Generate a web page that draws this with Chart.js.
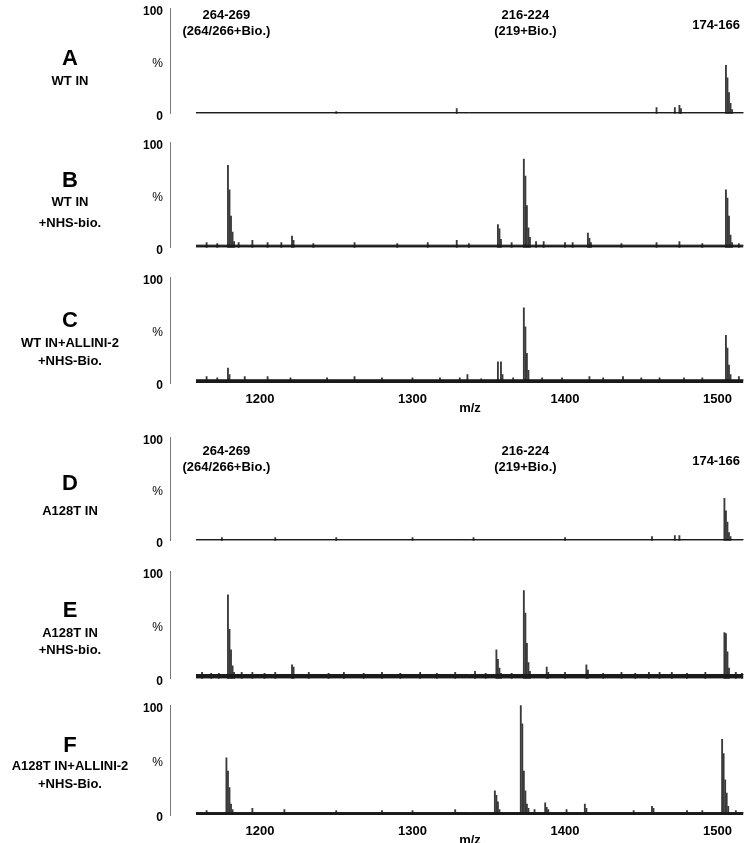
<!DOCTYPE html>
<html>
<head>
<meta charset="utf-8">
<script src="https://cdn.jsdelivr.net/npm/chart.js@4"></script>
<style>
  body { margin: 0; background: #fff; font-family: "Liberation Sans", Arial, sans-serif; }
  #wrap { position: relative; width: 745px; height: 843px; overflow: hidden; }
  canvas { position: absolute; }
  .lab { position: absolute; left: 0; width: 140px; text-align: center; font-weight: bold; color: #000; white-space: nowrap; }
</style>
</head>
<body>
<div id="wrap"></div>
<script>
// axis ticks and scan range (m/z)
const xTicks = [1200, 1300, 1400, 1500];
const scanRange = [1158, 1517];

// panel names
const panelLetters = ['A', 'B', 'C', 'D', 'E', 'F'];
const panelNames = [
  ['WT IN'],
  ['WT IN', '+NHS-bio.'],
  ['WT IN+ALLINI-2', '+NHS-Bio.'],
  ['A128T IN'],
  ['A128T IN', '+NHS-bio.'],
  ['A128T IN+ALLINI-2', '+NHS-Bio.']
];

// peptide labels above the top spectrum of each group
const annoMz = [1178, 1374, 1499];
const annoText = [['264-269', '(264/266+Bio.)'], ['216-224', '(219+Bio.)'], ['174-166']];

// baseline noise level (%) of each spectrum
const noiseLevel = [1.2, 2.5, 3, 1.2, 4, 2.2];

// peaks: m/z and relative intensity (%)
const mzA = [1250, 1329, 1460, 1472, 1475, 1476, 1505.5, 1506.5, 1507.5, 1508.5, 1509.5];
const intA = [2, 5, 6, 6, 8, 5, 46, 34, 20, 10, 4];

const mzB = [1165, 1172, 1179, 1180, 1181, 1182, 1183, 1186, 1195, 1205, 1214, 1221, 1222, 1235, 1262, 1290, 1310, 1329, 1337,
  1356, 1357, 1358, 1365, 1373, 1374, 1375, 1376, 1377, 1381, 1386, 1400, 1405, 1415, 1416, 1417, 1437, 1460, 1475, 1490,
  1505.5, 1506.5, 1507.5, 1508.5, 1509.5, 1514];
const intB = [5, 4, 78, 55, 30, 15, 6, 5, 7, 5, 5, 11, 7, 4, 5, 4, 5, 7, 4,
  22, 18, 8, 5, 84, 68, 40, 19, 10, 6, 6, 5, 5, 14, 9, 5, 4, 5, 6, 4,
  55, 47, 30, 12, 5, 4];

const mzC = [1165, 1172, 1179, 1180, 1190, 1205, 1220, 1244, 1262, 1280, 1300, 1318, 1331, 1336, 1345,
  1356, 1358, 1359, 1366, 1373, 1374, 1375, 1376, 1385, 1398, 1416, 1425, 1438, 1450, 1462, 1478, 1490,
  1505.5, 1506.5, 1507.5, 1508.5, 1514];
const intC = [6, 5, 14, 8, 6, 6, 5, 5, 6, 5, 5, 5, 5, 8, 4,
  20, 20, 8, 5, 71, 53, 28, 12, 5, 5, 6, 5, 6, 5, 5, 5, 5,
  45, 33, 17, 8, 6];

const mzD = [1175, 1210, 1250, 1300, 1340, 1400, 1457, 1472, 1475, 1504.5, 1505.5, 1506.5, 1507.5, 1508.5];
const intD = [3, 3, 3, 3, 3, 3, 4, 5, 5, 41, 29, 18, 8, 4];

const mzE = [1162, 1168, 1173, 1179, 1180, 1181, 1182, 1183, 1188, 1195, 1203, 1210, 1221, 1222, 1232, 1245, 1255, 1268,
  1280, 1292, 1305, 1316, 1328, 1341, 1348, 1355, 1356, 1357, 1358, 1365, 1373, 1374, 1375, 1376, 1377, 1388, 1389,
  1400, 1414, 1415, 1425, 1437, 1446, 1455, 1462, 1470, 1480, 1492, 1504.5, 1505.5, 1506.5, 1507.5, 1512, 1516];
const intE = [6, 5, 5, 78, 46, 27, 12, 6, 6, 6, 5, 6, 13, 11, 6, 5, 6, 5,
  6, 5, 6, 5, 6, 7, 5, 27, 18, 10, 5, 5, 82, 61, 33, 15, 7, 11, 6,
  6, 13, 8, 5, 6, 5, 6, 6, 6, 5, 6, 43, 42, 25, 10, 6, 5];

const mzF = [1165, 1178, 1179, 1180, 1181, 1182, 1195, 1216, 1250, 1280, 1300, 1328, 1354, 1355, 1356, 1357,
  1371, 1372, 1373, 1374, 1375, 1376, 1380, 1387, 1388, 1389, 1401, 1413, 1414, 1445, 1457, 1458, 1480, 1490,
  1503, 1504, 1505, 1506, 1507, 1512];
const intF = [4, 52, 40, 25, 10, 5, 6, 5, 4, 4, 4, 5, 22, 18, 12, 5,
  100, 83, 40, 22, 10, 6, 5, 11, 7, 5, 5, 10, 6, 4, 8, 6, 4, 4,
  69, 56, 32, 20, 8, 4];

const spectraMz = [mzA, mzB, mzC, mzD, mzE, mzF];
const spectraInt = [intA, intB, intC, intD, intE, intF];

// layout: pixel y of 100 % and of 0 % for each panel
const panelTop = [6, 140, 275, 435, 569, 703];
const panelBase = [118, 252, 383, 545, 683, 815];
const showX = [false, false, true, false, false, true];
const showAnno = [true, false, false, true, false, false];
const annoShift = [7, 0, 0, 14, 0, 0];
const labelY = [[58, 80], [180, 201, 222], [320, 342, 360], [483, 510], [610, 632, 649], [745, 765, 783]];

const wrap = document.getElementById('wrap');
const FONT = '"Liberation Sans", Arial, sans-serif';

function addLabel(text, y, size) {
  const d = document.createElement('div');
  d.className = 'lab';
  d.textContent = text;
  d.style.fontSize = size + 'px';
  d.style.lineHeight = size + 'px';
  d.style.top = (y - size / 2) + 'px';
  wrap.appendChild(d);
}

const peakLabelPlugin = {
  id: 'peakLabels',
  afterDraw(chart, args, opts) {
    if (!opts.show) return;
    const ctx = chart.ctx, xs = chart.scales.x, top = chart.chartArea.top + opts.shift;
    ctx.save();
    ctx.fillStyle = '#000';
    ctx.font = 'bold 13px ' + FONT;
    ctx.textAlign = 'center';
    ctx.textBaseline = 'middle';
    annoText.forEach((lines, k) => {
      const x = xs.getPixelForValue(annoMz[k]);
      if (lines.length === 1) ctx.fillText(lines[0], x, top + 10);
      else lines.forEach((t, j) => ctx.fillText(t, x, top + j * 16));
    });
    ctx.restore();
  }
};

function makePanel(i) {
  const padTop = 12;
  const xH = showX[i] ? 34 : 0;
  const padBottom = showX[i] ? 0 : 10;
  const cv = document.createElement('canvas');
  cv.width = 625;
  cv.height = panelBase[i] - panelTop[i] + padTop + xH + padBottom;
  cv.style.left = '120px';
  cv.style.top = (panelTop[i] - padTop) + 'px';
  wrap.appendChild(cv);

  const peaks = spectraMz[i].map((m, k) => ({ x: m, y: spectraInt[i][k] }));
  const noise = scanRange.map(m => ({ x: m, y: noiseLevel[i] }));

  new Chart(cv, {
    type: 'bar',
    data: {
      datasets: [
        {
          type: 'line',
          data: noise,
          fill: 'origin',
          backgroundColor: '#1a1a1a',
          borderColor: '#1a1a1a',
          borderWidth: 1,
          pointRadius: 0
        },
        {
          data: peaks,
          backgroundColor: '#3a3a3a',
          barThickness: 1.2,
          grouped: false
        }
      ]
    },
    options: {
      responsive: false,
      animation: false,
      devicePixelRatio: 1,
      layout: { padding: { top: padTop, bottom: padBottom, left: 0, right: 0 } },
      plugins: {
        legend: { display: false },
        tooltip: { enabled: false },
        peakLabels: { show: showAnno[i], shift: annoShift[i] }
      },
      scales: {
        x: {
          type: 'linear',
          min: 1141,
          max: 1518,
          offset: false,
          display: showX[i],
          grid: { display: false, drawTicks: false },
          border: { display: false },
          afterBuildTicks: s => { s.ticks = xTicks.map(v => ({ value: v })); },
          afterFit: s => { s.height = xH; },
          ticks: {
            padding: 9,
            maxRotation: 0,
            color: '#000',
            callback: v => String(v),
            font: { family: FONT, size: 13, weight: 'bold' }
          }
        },
        y: {
          min: 0,
          max: 100,
          grid: { display: false, drawTicks: false },
          border: { display: true, color: '#777', width: 1 },
          afterFit: s => { s.width = 50; },
          ticks: {
            stepSize: 50,
            padding: 7,
            labelOffset: 3,
            color: '#000',
            callback: v => (v === 50 ? '%' : String(v)),
            font: c => (c.tick && c.tick.value === 50)
              ? { family: FONT, size: 12, weight: 'normal' }
              : { family: FONT, size: 12, weight: 'bold' }
          }
        }
      }
    },
    plugins: [peakLabelPlugin]
  });

  addLabel(panelLetters[i], labelY[i][0], 22);
  panelNames[i].forEach((t, j) => addLabel(t, labelY[i][j + 1], 13));

  if (showX[i]) {
    const d = document.createElement('div');
    d.className = 'lab';
    d.textContent = 'm/z';
    d.style.left = '440px';
    d.style.width = '60px';
    d.style.fontSize = '13px';
    d.style.lineHeight = '13px';
    d.style.top = (panelBase[i] + 24 - 6) + 'px';
    wrap.appendChild(d);
  }
}

for (let i = 0; i < 6; i++) makePanel(i);
</script>
</body>
</html>
